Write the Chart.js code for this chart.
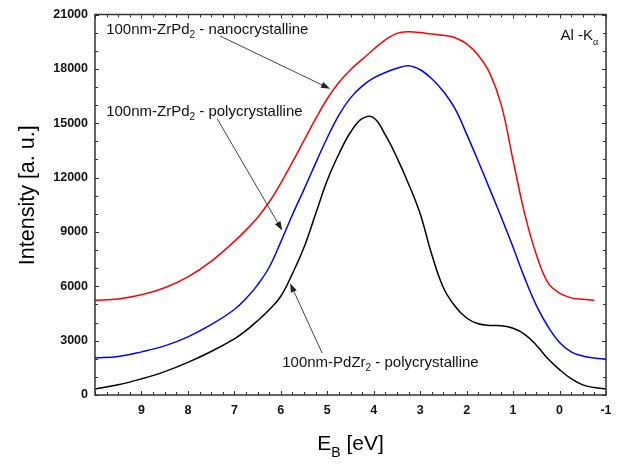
<!DOCTYPE html>
<html><head><meta charset="utf-8">
<script src="https://cdn.jsdelivr.net/npm/chart.js@4/dist/chart.umd.min.js"></script>
<style>html,body{margin:0;padding:0;background:#fff;}</style>
</head><body>
<canvas id="c" width="633" height="464"></canvas>
<script>
// Binding energy E_B [eV] (x axis, reversed)
const energy = [10, 9.5, 9, 8.5, 8, 7.5, 7, 6.75, 6.5, 6.25, 6, 5.75, 5.5, 5.25, 5, 4.75, 4.5, 4.25, 4, 3.75, 3.5, 3.25, 3, 2.75, 2.5, 2.25, 2, 1.75, 1.5, 1.25, 1, 0.75, 0.5, 0.25, 0, -0.25, -0.5, -0.75, -1];
// 100nm-ZrPd2 - nanocrystalline (red)
const nanoZrPd2 = [5230, 5300, 5530, 5920, 6520, 7380, 8480, 9100, 9800, 10650, 11700, 12850, 14050, 15250, 16350, 17250, 17950, 18520, 19080, 19600, 19960, 20050, 20000, 19920, 19850, 19720, 19380, 18750, 17750, 15970, 12950, 10000, 7750, 6200, 5620, 5360, 5280, 5230, null];
// 100nm-ZrPd2 - polycrystalline (blue)
const polyZrPd2 = [2050, 2130, 2380, 2710, 3210, 3880, 4720, 5320, 6080, 7050, 8450, 9950, 11350, 12800, 14200, 15450, 16400, 17050, 17500, 17800, 18030, 18170, 17950, 17450, 16750, 15800, 14400, 12900, 11350, 9780, 8150, 6450, 4950, 3780, 2900, 2380, 2150, 2040, 1980];
// 100nm-PdZr2 - polycrystalline (black)
const polyPdZr2 = [330, 560, 890, 1290, 1800, 2400, 3100, 3550, 4100, 4700, 5450, 6700, 8150, 10000, 11850, 13300, 14500, 15250, 15300, 14350, 13100, 11650, 10000, 7750, 5920, 4900, 4250, 3930, 3840, 3820, 3680, 3350, 2750, 2000, 1400, 900, 560, 410, 330];
const xTickValues = [9, 8, 7, 6, 5, 4, 3, 2, 1, 0, -1];
const yTickValues = [0, 3000, 6000, 9000, 12000, 15000, 18000, 21000];

const pts = arr => energy.map((e, i) => ({x: e, y: arr[i]}));

const FONT = '"Liberation Sans", Arial, sans-serif';

function richText(ctx, x, y, parts) {
  let cx = x;
  for (const p of parts) {
    ctx.font = p.size + 'px ' + FONT;
    ctx.fillText(p.t, cx, y + (p.dy || 0));
    cx += ctx.measureText(p.t).width;
  }
}
function arrow(ctx, x1, y1, x2, y2) {
  const a = Math.atan2(y2 - y1, x2 - x1);
  const L = 9, W = 3.2;
  ctx.beginPath();
  ctx.moveTo(x1, y1);
  ctx.lineTo(x2 - Math.cos(a) * L * 0.8, y2 - Math.sin(a) * L * 0.8);
  ctx.stroke();
  ctx.beginPath();
  ctx.moveTo(x2, y2);
  ctx.lineTo(x2 - Math.cos(a) * L - Math.sin(a) * W, y2 - Math.sin(a) * L + Math.cos(a) * W);
  ctx.lineTo(x2 - Math.cos(a) * L + Math.sin(a) * W, y2 - Math.sin(a) * L - Math.cos(a) * W);
  ctx.closePath();
  ctx.fill();
}

const decor = {
  id: 'decor',
  beforeDraw(chart) {
    const ctx = chart.ctx;
    ctx.save();
    ctx.fillStyle = '#fff';
    ctx.fillRect(0, 0, chart.width, chart.height);
    ctx.restore();
  },
  afterDraw(chart) {
    const ctx = chart.ctx;
    const a = chart.chartArea;
    const xs = chart.scales.x, ys = chart.scales.y;
    const X = v => xs.getPixelForValue(v), Y = v => ys.getPixelForValue(v);
    ctx.save();
    // inner ticks on all four sides
    ctx.strokeStyle = '#333';
    ctx.lineWidth = 1;
    ctx.beginPath();
    for (let k = 0; k <= 44; k++) {
      const v = -1 + k * 0.25;
      const px = Math.round(X(v)) + 0.5;
      const len = (k % 4 === 0) ? 4 : 3;
      ctx.moveTo(px, a.bottom); ctx.lineTo(px, a.bottom - len);
      ctx.moveTo(px, a.top); ctx.lineTo(px, a.top + len);
    }
    for (let k = 0; k <= 21; k++) {
      const v = k * 1000;
      const py = Math.round(Y(v)) + 0.5;
      const len = (k % 3 === 0) ? 4 : 3;
      ctx.moveTo(a.left, py); ctx.lineTo(a.left + len, py);
      ctx.moveTo(a.right, py); ctx.lineTo(a.right - len, py);
    }
    ctx.stroke();
    // frame
    ctx.lineWidth = 1.5;
    ctx.strokeStyle = '#333';
    ctx.strokeRect(a.left, a.top, a.right - a.left, a.bottom - a.top);

    // annotations
    ctx.fillStyle = '#111';
    ctx.textBaseline = 'alphabetic';
    ctx.textAlign = 'left';
    richText(ctx, X(9.76), Y(19910), [{t: '100nm-ZrPd', size: 15}, {t: '2', size: 10, dy: 4}, {t: ' - nanocrystalline', size: 15}]);
    richText(ctx, X(9.76), Y(15413), [{t: '100nm-ZrPd', size: 15}, {t: '2', size: 10, dy: 4}, {t: ' - polycrystalline', size: 15}]);
    richText(ctx, X(5.97), Y(1541), [{t: '100nm-PdZr', size: 15}, {t: '2', size: 10, dy: 4}, {t: ' - polycrystalline', size: 15}]);
    richText(ctx, X(-0.02), Y(19580), [{t: 'Al -K', size: 15}, {t: '\u03b1', size: 9, dy: 5}]);

    ctx.strokeStyle = '#444';
    ctx.fillStyle = '#222';
    ctx.lineWidth = 1;
    arrow(ctx, X(7.31), Y(19816), X(4.94), Y(16900));
    arrow(ctx, X(7.37), Y(15248), X(5.97), Y(9083));
    arrow(ctx, X(5.11), Y(2312), X(5.80), Y(6165));

    // axis titles
    ctx.fillStyle = '#000';
    ctx.save();
    ctx.translate(34, (a.top + a.bottom) / 2 - 9.5);
    ctx.rotate(-Math.PI / 2);
    ctx.textAlign = 'center';
    ctx.font = '21.5px ' + FONT;
    ctx.fillText('Intensity [a. u.]', 0, 0);
    ctx.restore();
    ctx.textAlign = 'left';
    ctx.font = '21px ' + FONT;
    const wE = ctx.measureText('E').width;
    ctx.font = '14px ' + FONT;
    const wB = ctx.measureText('B').width;
    ctx.font = '21px ' + FONT;
    const wR = ctx.measureText(' [eV]').width;
    const startX = (a.left + a.right) / 2 - (wE + wB + wR) / 2;
    richText(ctx, startX, 450, [{t: 'E', size: 21}, {t: 'B', size: 14, dy: 7}, {t: ' [eV]', size: 21}]);
    ctx.restore();
  }
};

const lineDs = (label, arr, color) => ({
  label, data: pts(arr), borderColor: color, backgroundColor: color,
  borderWidth: 1.5, pointRadius: 0, tension: 0.4, spanGaps: false, fill: false
});

new Chart(document.getElementById('c'), {
  type: 'line',
  data: {
    datasets: [
      lineDs('100nm-ZrPd2 - nanocrystalline', nanoZrPd2, '#ff0000'),
      lineDs('100nm-ZrPd2 - polycrystalline', polyZrPd2, '#0000ff'),
      lineDs('100nm-PdZr2 - polycrystalline', polyPdZr2, '#000000')
    ]
  },
  options: {
    responsive: false,
    animation: false,
    devicePixelRatio: 1,
    layout: {padding: {left: 0, right: 27, top: 13, bottom: 0}},
    plugins: {legend: {display: false}, tooltip: {enabled: false}},
    scales: {
      x: {
        type: 'linear', min: -1, max: 10, reverse: true,
        afterFit: s => { s.height = 69; },
        afterBuildTicks: s => { s.ticks = xTickValues.map(v => ({value: v})); },
        grid: {display: false, drawTicks: false},
        border: {display: false},
        ticks: {padding: 8, color: '#111', font: {family: FONT, size: 12.5, weight: 'bold'}, maxRotation: 0, callback: v => String(v)}
      },
      y: {
        type: 'linear', min: 0, max: 21000,
        afterFit: s => { s.width = 95; },
        afterBuildTicks: s => { s.ticks = yTickValues.map(v => ({value: v})); },
        grid: {display: false, drawTicks: false},
        border: {display: false},
        ticks: {padding: 7, color: '#111', font: {family: FONT, size: 12.5, weight: 'bold'}, callback: v => String(v)}
      }
    }
  },
  plugins: [decor]
});
</script>
</body></html>
